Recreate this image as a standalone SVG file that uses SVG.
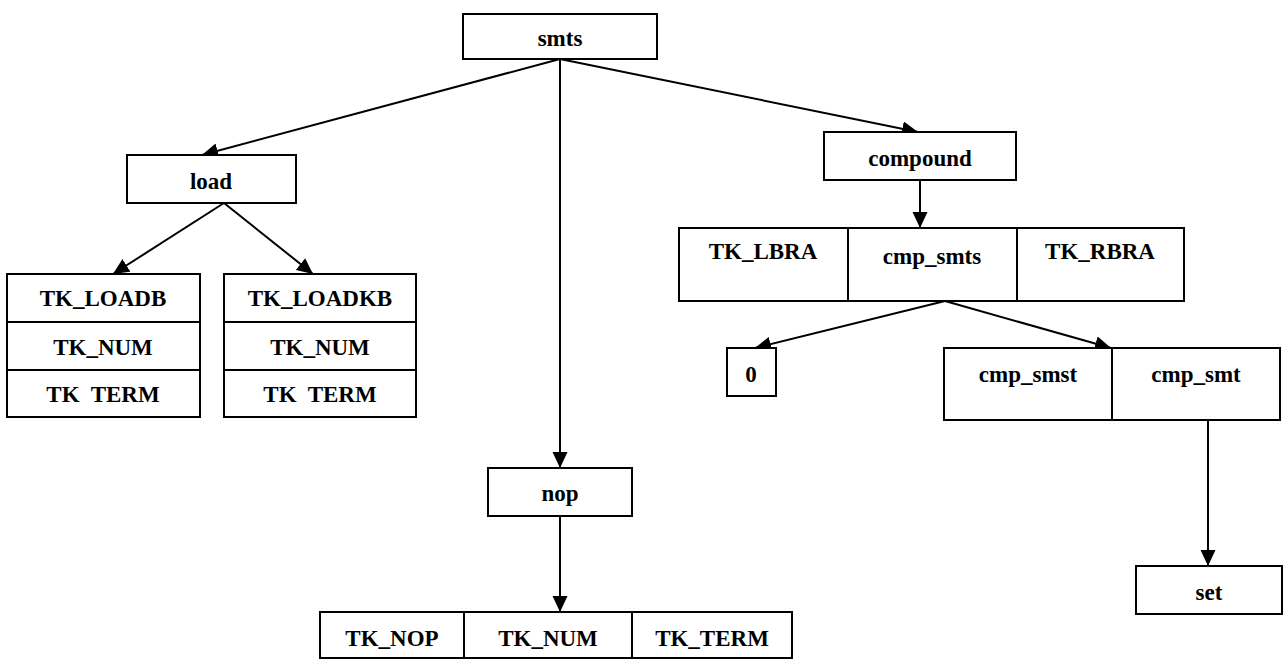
<svg xmlns="http://www.w3.org/2000/svg" width="1285" height="660" viewBox="0 0 1285 660">
  <style>
    rect { fill: #fff; stroke: #000; stroke-width: 2; }
    .div { stroke: #000; stroke-width: 2; }
    text { font-family: "Liberation Serif", "Times New Roman", "DejaVu Serif", serif; font-weight: bold; font-size: 23px; fill: #000; text-anchor: middle; white-space: pre; }
    .edge { stroke: #000; stroke-width: 2; fill: none; marker-end: url(#arrow); }
  </style>
  <defs>
    <marker id="arrow" markerUnits="userSpaceOnUse" markerWidth="18" markerHeight="16" refX="16" refY="7.5" orient="auto">
      <path d="M0,0 L16,7.5 L0,15 Z" fill="#000"/>
    </marker>
  </defs>
  <rect x="0" y="0" width="1285" height="660" style="stroke:none;fill:#fff"/>

  <g id="connectors">
    <line class="edge" x1="560" y1="59" x2="202" y2="155"/>
    <line class="edge" x1="560" y1="59" x2="560" y2="468"/>
    <line class="edge" x1="560" y1="59" x2="918" y2="132"/>
    <line class="edge" x1="224" y1="203" x2="113" y2="274"/>
    <line class="edge" x1="224" y1="203" x2="313" y2="274"/>
    <line class="edge" x1="920" y1="180" x2="920" y2="228"/>
    <line class="edge" x1="945" y1="301" x2="755" y2="348"/>
    <line class="edge" x1="945" y1="301" x2="1111" y2="348"/>
    <line class="edge" x1="560" y1="516" x2="560" y2="612"/>
    <line class="edge" x1="1208" y1="420" x2="1208" y2="566"/>
  </g>

  <g id="smts">
    <rect x="463" y="14" width="194" height="45"/>
    <text x="560" y="46">smts</text>
  </g>

  <g id="load">
    <rect x="127" y="155" width="169" height="48"/>
    <text x="211" y="189">load</text>
  </g>

  <g id="compound">
    <rect x="824" y="132" width="192" height="48"/>
    <text x="920" y="166">compound</text>
  </g>

  <g id="loadb">
    <rect x="7" y="274" width="193" height="143"/>
    <line class="div" x1="7" y1="322" x2="200" y2="322"/>
    <line class="div" x1="7" y1="370" x2="200" y2="370"/>
    <text x="103" y="306">TK_LOADB</text>
    <text x="103" y="355">TK_NUM</text>
    <text x="103" y="402">TK  TERM</text>
  </g>

  <g id="loadkb">
    <rect x="224" y="274" width="192" height="143"/>
    <line class="div" x1="224" y1="322" x2="416" y2="322"/>
    <line class="div" x1="224" y1="370" x2="416" y2="370"/>
    <text x="320" y="306">TK_LOADKB</text>
    <text x="320" y="355">TK_NUM</text>
    <text x="320" y="402">TK  TERM</text>
  </g>

  <g id="compound-body">
    <rect x="679" y="228" width="505" height="73"/>
    <line class="div" x1="848" y1="228" x2="848" y2="301"/>
    <line class="div" x1="1017" y1="228" x2="1017" y2="301"/>
    <text x="763" y="259">TK_LBRA</text>
    <text x="932" y="264">cmp_smts</text>
    <text x="1100" y="259">TK_RBRA</text>
  </g>

  <g id="zero">
    <rect x="727" y="348" width="49" height="48"/>
    <text x="751" y="382">0</text>
  </g>

  <g id="cmp-list">
    <rect x="944" y="348" width="336" height="72"/>
    <line class="div" x1="1112" y1="348" x2="1112" y2="420"/>
    <text x="1028" y="382">cmp_smst</text>
    <text x="1196" y="382">cmp_smt</text>
  </g>

  <g id="set">
    <rect x="1136" y="566" width="146" height="48"/>
    <text x="1209" y="600">set</text>
  </g>

  <g id="nop">
    <rect x="488" y="468" width="144" height="48"/>
    <text x="560" y="501">nop</text>
  </g>

  <g id="nop-body">
    <rect x="320" y="612" width="472" height="46"/>
    <line class="div" x1="464" y1="612" x2="464" y2="658"/>
    <line class="div" x1="632" y1="612" x2="632" y2="658"/>
    <text x="392" y="646">TK_NOP</text>
    <text x="548" y="646">TK_NUM</text>
    <text x="712" y="646">TK_TERM</text>
  </g>
</svg>
